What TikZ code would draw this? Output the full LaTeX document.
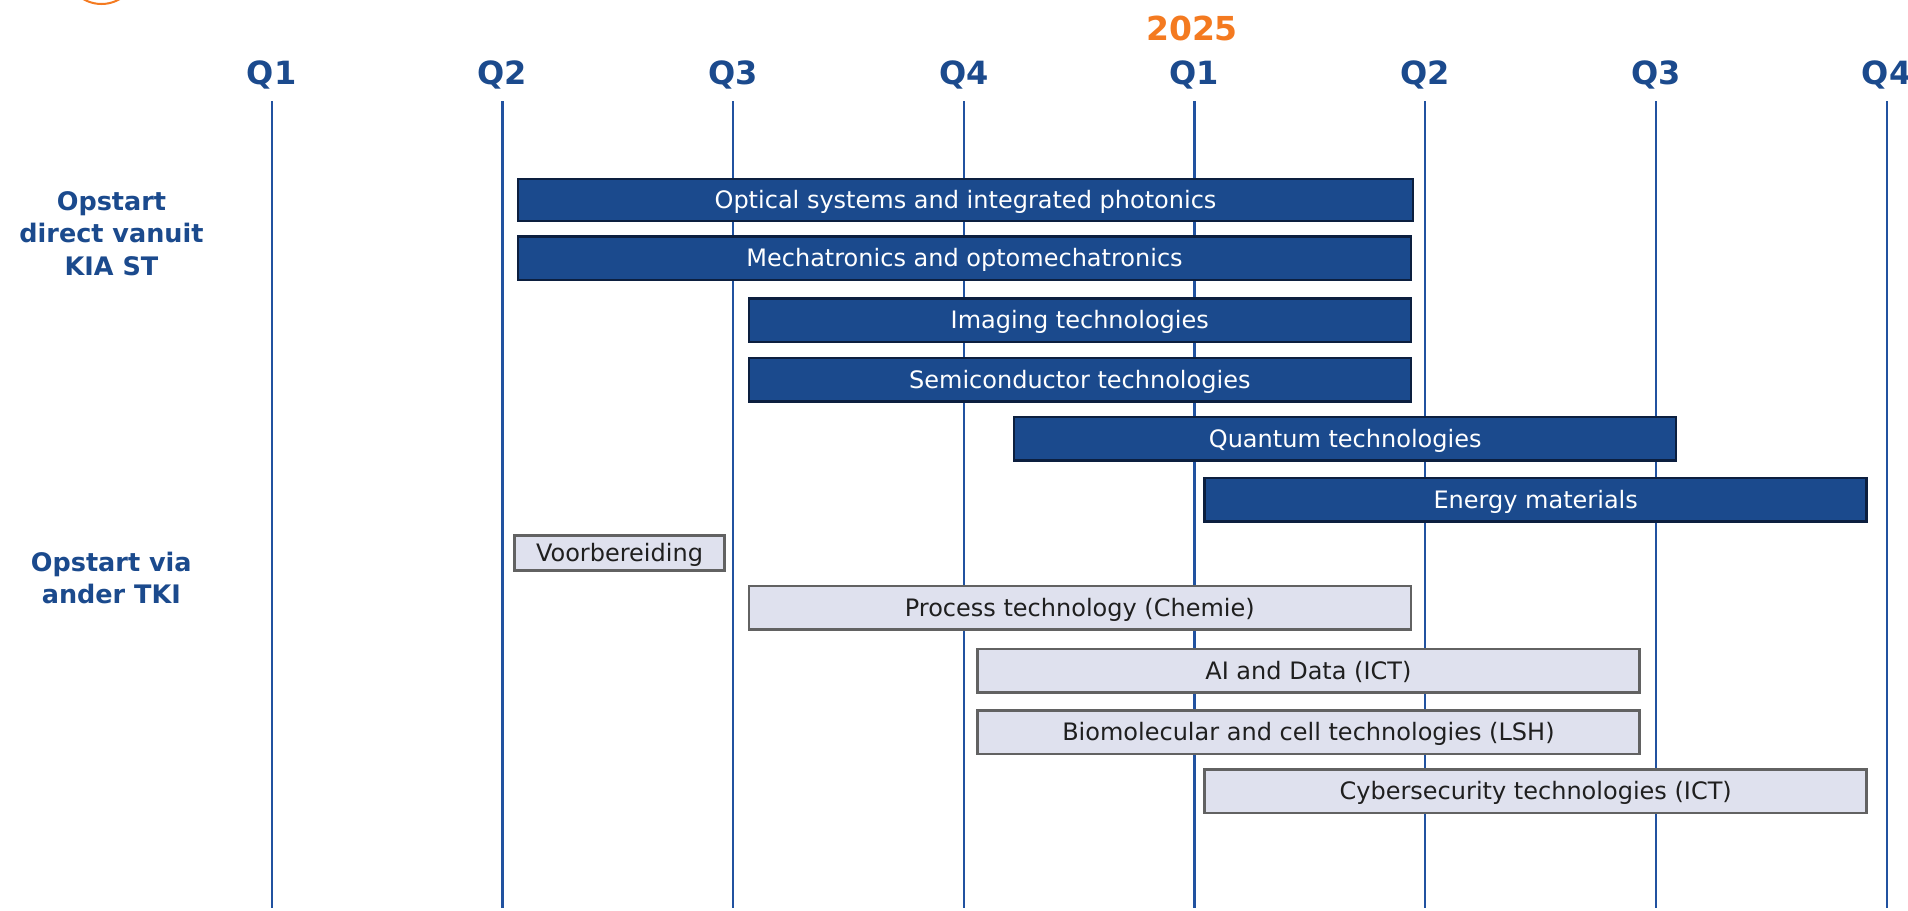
\documentclass[tikz,border=0pt]{standalone}
\usepackage{fontspec}
\setmainfont{DejaVu Sans}
\usetikzlibrary{positioning}
\definecolor{kiablue}{HTML}{1B4A8D}
\definecolor{kianavy}{HTML}{0C1F3F}
\definecolor{gridblue}{HTML}{2152A0}
\definecolor{tkifill}{HTML}{DFE1EE}
\definecolor{tkigrey}{HTML}{626262}
\definecolor{yearorange}{HTML}{F47A20}

\begin{document}
\begin{tikzpicture}[x=1pt, y=-1pt,
  every node/.style = {inner sep=0pt, outer sep=0pt},
  quarter/.style = {font=\fontsize{32}{38}\selectfont\bfseries, text=kiablue, text height=23pt, text depth=0pt},
  rowlabel/.style = {font=\fontsize{25.5}{32.5}\selectfont\bfseries, text=kiablue, align=center, anchor=north},
  kiabar/.style = {draw=kianavy, fill=kiablue, line width=2.5pt, text=white, minimum height=43.5pt, minimum width=662pt, font=\fontsize{24}{29}\selectfont, text height=17.5pt, text depth=0pt},
  tkibar/.style = {kiabar, draw=tkigrey, fill=tkifill, text=black!88}
]
\clip (0,0) rectangle (1908,910);
\fill[white] (0,0) rectangle (1908,910);

% logo fragment
\draw[yearorange, line width=2pt] (101.5,-32) circle[radius=36pt];

\node[font=\fontsize{33}{40}\selectfont\bfseries, text=yearorange, text height=24pt, text depth=0pt] (year) at (1192,28) {2025};

% quarters
\foreach \i/\q in {0/Q1, 1/Q2, 2/Q3, 3/Q4, 4/Q1, 5/Q2, 6/Q3, 7/Q4} {
  \node[quarter] (q\i) at (271.7+230.7*\i, 72.5) {\q};
  \coordinate (t\i) at (271.7+230.7*\i, 101);
  \coordinate (b\i) at (271.7+230.7*\i, 908);
  \draw[gridblue, line width=2.2pt] (t\i) -- (b\i);
}

\node[rowlabel] (kiast) at (111.5,191.5) {Opstart\\direct vanuit\\KIA ST};
\node[rowlabel] (tki) at (111.3,552) {Opstart via\\ander TKI};

% direct vanuit KIA ST
\node[kiabar, minimum width=894.6pt, minimum height=42.4pt] (optical) at (965.5,200) {Optical systems and integrated photonics};
\node[kiabar, minimum width=892.6pt] (mechatronics) at (964.5,258.2) {Mechatronics and optomechatronics};
\node[kiabar] (imaging) at (1079.8,320.2) {Imaging technologies};
\node[kiabar] (semicon) at (1079.8,379.9) {Semiconductor technologies};
\node[kiabar] (quantum) at (1345.2,438.7) {Quantum technologies};
\node[kiabar] (energy) at (1535.7,499.5) {Energy materials};

% via ander TKI
\node[tkibar, minimum width=210pt, minimum height=34.7pt] (voorbereiding) at (619.5,552.9) {Voorbereiding};
\node[tkibar] (process) at (1079.8,607.5) {Process technology (Chemie)};
\node[tkibar] (aidata) at (1308.4,670.5) {AI and Data (ICT)};
\node[tkibar] (biomol) at (1308.4,732) {Biomolecular and cell technologies (LSH)};
\node[tkibar] (cyber) at (1535.7,791) {Cybersecurity technologies (ICT)};
\end{tikzpicture}
\end{document}
